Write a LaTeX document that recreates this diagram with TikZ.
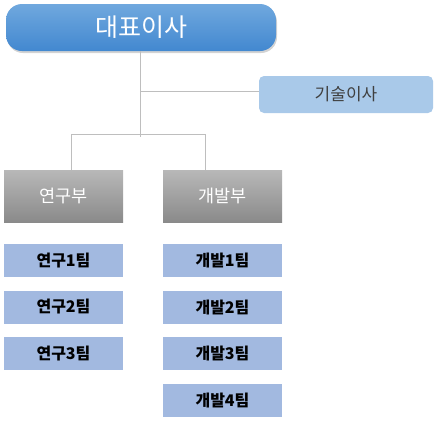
\documentclass[tikz,border=0pt]{standalone}
\usepackage{fontspec}
\usepackage{tikz}
\usetikzlibrary{positioning, shadows, calc}
\setmainfont{Noto Sans CJK KR}
\definecolor{ceotop}{RGB}{112,168,222}
\definecolor{ceobottom}{RGB}{66,136,208}
\definecolor{directorcolor}{RGB}{169,201,233}
\definecolor{depttop}{RGB}{184,184,184}
\definecolor{deptbottom}{RGB}{138,138,138}
\definecolor{teamcolor}{RGB}{162,185,224}
\definecolor{linkcolor}{RGB}{190,190,190}
\definecolor{textgray}{RGB}{64,64,64}

\begin{document}
\begin{tikzpicture}[
    x=1pt, y=-1pt,
    ceo/.style={top color=ceotop, bottom color=ceobottom, minimum width=270pt, minimum height=47pt, rounded corners=16pt, drop shadow={opacity=0.35, shadow xshift=1pt, shadow yshift=-2pt}, text=white, font=\fontsize{25}{27}\selectfont},
    director/.style={fill=directorcolor, minimum width=174pt, minimum height=37pt, rounded corners=5pt, text=textgray, font=\fontsize{17}{19}\selectfont},
    dept/.style={top color=depttop, bottom color=deptbottom, minimum width=119pt, minimum height=52pt, text=white, font=\fontsize{17.5}{19}\selectfont},
    team/.style={fill=teamcolor, minimum width=119pt, minimum height=33pt, text=black, font=\bfseries\fontsize{16}{18}\selectfont},
    link/.style={draw=linkcolor, line width=0.9pt}
]
    \useasboundingbox (0,0) rectangle (434,421);

    % Top
    \node[ceo] (ceo) at (141,27.5) {대표이사};
    \node[director] (cto) at (346,94.5) {기술이사};

    % Departments
    \node[dept] (research) at (63.5,196) {연구부};
    \node[dept] (develop) at (222.5,196) {개발부};

    % Teams
    \node[team] (research1) at (63.5,260.5) {연구1팀};
    \node[team] (research2) at (63.5,307) {연구2팀};
    \node[team] (research3) at (63.5,353.5) {연구3팀};
    \node[team] (develop1) at (222.5,260.5) {개발1팀};
    \node[team] (develop2) at (222.5,307) {개발2팀};
    \node[team] (develop3) at (222.5,353.5) {개발3팀};
    \node[team] (develop4) at (222.5,400) {개발4팀};

    % Links
    \coordinate (split) at (140,91);
    \coordinate (bar) at (140,134.5);
    \coordinate (fork) at (140,136.5);
    \draw[link] (ceo.south -| split) -- (fork);
    \draw[link] (split) -- (split -| cto.west);
    \draw[link] ([xshift=7.5pt]research.north) |- (bar) -| ([xshift=-17.5pt]develop.north);
\end{tikzpicture}
\end{document}
